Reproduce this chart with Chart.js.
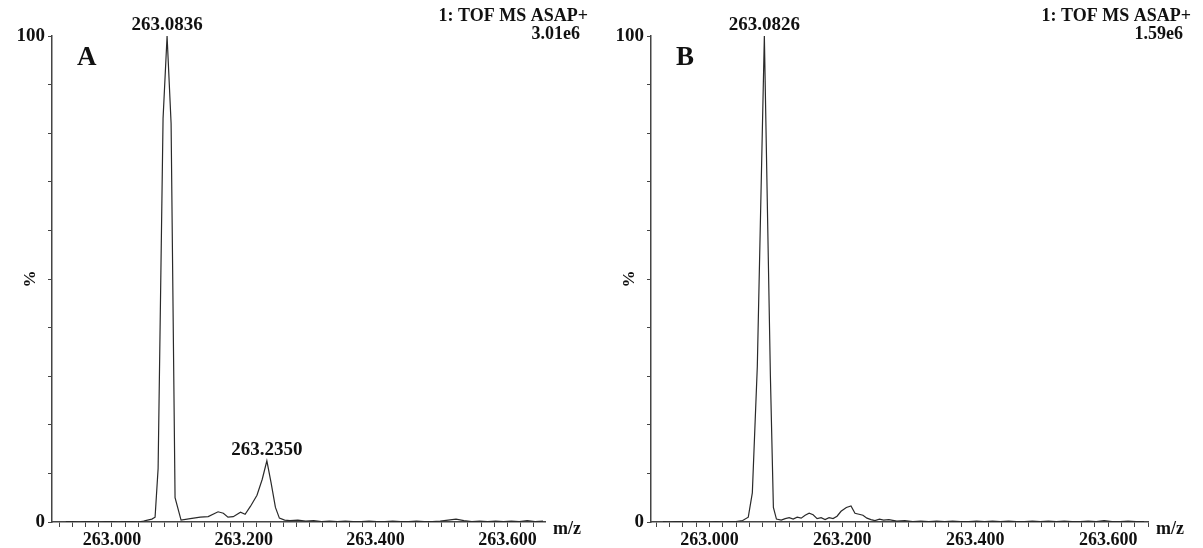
<!DOCTYPE html>
<html lang="en">
  <head>
    <meta charset="UTF-8">
    <script src="https://cdn.jsdelivr.net/npm/chart.js@4.4.0/dist/chart.umd.min.js"></script>
    <style>
      body { margin: 0; background: #FFFFFF; }
      .wrap { position: relative; width: 1203px; height: 548px; }
      .panel { position: absolute; top: 0; height: 548px; }
    </style>
  </head>
  <body>
    <div class="wrap">
      <div class="panel" style="left: 0; width: 600px;"><canvas id="chartA"></canvas></div>
      <div class="panel" style="left: 600px; width: 603px;"><canvas id="chartB"></canvas></div>
    </div>

    <script>
      // Spectrum A (m/z, relative intensity %)
      const mzA = [262.930, 262.940, 262.950, 262.960, 262.970, 262.980, 262.990, 263.000, 263.010, 263.020,
        263.030, 263.040, 263.048, 263.054, 263.0605, 263.0654, 263.0700, 263.0775, 263.0836, 263.0897,
        263.0957, 263.1048, 263.1188, 263.134, 263.146, 263.161, 263.169, 263.176, 263.184, 263.195,
        263.202, 263.210, 263.220, 263.228, 263.235, 263.2415, 263.248, 263.254, 263.262, 263.270,
        263.282, 263.294, 263.306, 263.318, 263.330, 263.342, 263.354, 263.366, 263.378, 263.390,
        263.402, 263.414, 263.426, 263.438, 263.450, 263.462, 263.474, 263.486, 263.498, 263.510,
        263.522, 263.534, 263.546, 263.558, 263.570, 263.582, 263.594, 263.606, 263.618, 263.630,
        263.642, 263.654];
      const intA = [0.1, 0.1, 0.0, 0.1, 0.1, 0.0, 0.1, 0.1, 0.0, 0.1,
        0.1, 0.0, 0.2, 0.4, 0.6, 1.0, 11, 83, 100, 82,
        5, 0.4, 0.7, 1.0, 1.1, 2.1, 1.8, 1.0, 1.1, 2.0,
        1.6, 3.2, 5.5, 8.8, 12.6, 8, 3, 0.8, 0.4, 0.3,
        0.4, 0.2, 0.3, 0.1, 0.2, 0.1, 0.2, 0.1, 0.1, 0.2,
        0.1, 0.1, 0.2, 0.1, 0.1, 0.2, 0.1, 0.1, 0.2, 0.4,
        0.6, 0.3, 0.1, 0.2, 0.1, 0.2, 0.1, 0.2, 0.1, 0.3,
        0.1, 0.2];

      // Spectrum B
      const mzB = [262.930, 262.940, 262.950, 262.960, 262.970, 262.980, 262.990, 263.000, 263.010, 263.020,
        263.030, 263.040, 263.050, 263.0584, 263.0645, 263.0720, 263.0826, 263.0917, 263.0962, 263.1008,
        263.108, 263.114, 263.120, 263.126, 263.132, 263.138, 263.144, 263.150, 263.156, 263.162,
        263.168, 263.174, 263.180, 263.186, 263.192, 263.198, 263.206, 263.213, 263.219, 263.225,
        263.231, 263.237, 263.243, 263.249, 263.256, 263.262, 263.270, 263.282, 263.294, 263.306,
        263.318, 263.330, 263.342, 263.354, 263.366, 263.378, 263.390, 263.402, 263.414, 263.426,
        263.438, 263.450, 263.462, 263.474, 263.486, 263.498, 263.510, 263.522, 263.534, 263.546,
        263.558, 263.570, 263.582, 263.594, 263.606, 263.618, 263.630, 263.642, 263.654];
      const intB = [0.1, 0.0, 0.1, 0.1, 0.0, 0.1, 0.1, 0.0, 0.1, 0.0,
        0.1, 0.1, 0.3, 1.0, 6, 32, 100, 30, 3, 0.6,
        0.4, 0.7, 0.9, 0.6, 1.0, 0.8, 1.4, 1.8, 1.5, 0.7,
        0.9, 0.5, 0.9, 0.7, 1.2, 2.2, 3.0, 3.3, 1.8, 1.6,
        1.4, 0.8, 0.5, 0.3, 0.6, 0.4, 0.5, 0.2, 0.3, 0.1,
        0.2, 0.1, 0.2, 0.1, 0.2, 0.1, 0.1, 0.2, 0.1, 0.2,
        0.1, 0.2, 0.1, 0.1, 0.2, 0.1, 0.2, 0.1, 0.2, 0.1,
        0.1, 0.2, 0.1, 0.3, 0.1, 0.1, 0.2, 0.1, 0.1];

      // labelled peaks
      const peakMzA = [263.0836, 263.2350];
      const peakTopA = [100, 12.6];
      const peakMzB = [263.0826];
      const peakTopB = [100];

      // axis ticks
      const xMajorTicks = [263.000, 263.200, 263.400, 263.600];
      const xTickStep = 0.02;
      const yTicks = [0, 10, 20, 30, 40, 50, 60, 70, 80, 90, 100];
      const yLabelled = [0, 100];

      const scanTitle = '1: TOF MS ASAP+';
      const scaleA = '3.01e6';
      const scaleB = '1.59e6';

      const serif = '"Liberation Serif", "Times New Roman", serif';

      const annotate = {
        id: 'annotate',
        afterDraw(chart, args, opts) {
          const { ctx, chartArea, scales } = chart;
          const w = chart.width;
          ctx.save();
          ctx.fillStyle = '#111111';

          // peak labels
          ctx.font = 'bold 19px ' + serif;
          ctx.textAlign = 'center';
          ctx.textBaseline = 'alphabetic';
          opts.peakMz.forEach((mz, i) => {
            ctx.fillText(mz.toFixed(4), scales.x.getPixelForValue(mz), scales.y.getPixelForValue(opts.peakTop[i]) - 6);
          });

          // instrument header
          ctx.font = 'bold 18px ' + serif;
          ctx.textAlign = 'right';
          ctx.fillText(scanTitle, w - 12, 21);
          ctx.fillText(opts.scale, w - 20, 39);

          // panel letter
          ctx.font = 'bold 27px ' + serif;
          ctx.textAlign = 'left';
          ctx.fillText(opts.letter, chartArea.left + 25, 65);

          // m/z
          ctx.font = 'bold 18px ' + serif;
          ctx.fillText('m/z', chartArea.right + 8, chartArea.bottom + 12);

          // %
          ctx.translate(chartArea.left - 22, (chartArea.top + chartArea.bottom) / 2);
          ctx.rotate(-Math.PI / 2);
          ctx.textAlign = 'center';
          ctx.font = 'bold 17px ' + serif;
          ctx.fillText('%', 0, 5);
          ctx.restore();
        }
      };

      function makeChart(id, xs, ys, letter, scale, peakMz, peakTop, yWidth, xMin, xMax) {
        const minorTicks = [];
        for (let v = 262.92; v <= xMax + 1e-9; v += xTickStep) minorTicks.push(+v.toFixed(3));

        return new Chart(document.getElementById(id), {
          type: 'line',
          data: {
            datasets: [{
              data: xs.map((x, i) => ({ x: x, y: ys[i] })),
              borderColor: '#2a2a2a',
              borderWidth: 1.2,
              pointRadius: 0,
              tension: 0,
              fill: false
            }]
          },
          options: {
            responsive: true,
            maintainAspectRatio: false,
            animation: false,
            layout: { padding: { top: 36, right: 55, left: 0, bottom: 0 } },
            plugins: {
              legend: { display: false },
              tooltip: { enabled: false },
              annotate: { letter: letter, scale: scale, peakMz: peakMz, peakTop: peakTop }
            },
            scales: {
              x: {
                type: 'linear',
                min: xMin,
                max: xMax,
                afterBuildTicks: s => { s.ticks = minorTicks.map(v => ({ value: v })); },
                afterFit: s => { s.height = 26; },
                ticks: {
                  autoSkip: false,
                  maxRotation: 0,
                  padding: 3,
                  color: '#111111',
                  font: { family: serif, size: 18, weight: 'bold' },
                  callback: v => xMajorTicks.some(m => Math.abs(m - v) < 1e-6) ? v.toFixed(3) : ''
                },
                grid: { drawOnChartArea: false, drawTicks: true, tickLength: 5, color: '#444444' },
                border: { color: '#444444', width: 1.5 }
              },
              y: {
                min: 0,
                max: 100,
                afterBuildTicks: s => { s.ticks = yTicks.map(v => ({ value: v })); },
                afterFit: s => { s.width = yWidth; },
                ticks: {
                  padding: 3,
                  color: '#111111',
                  font: { family: serif, size: 19, weight: 'bold' },
                  callback: v => yLabelled.includes(v) ? String(v) : ''
                },
                grid: { drawOnChartArea: false, drawTicks: true, tickLength: 4, color: '#444444' },
                border: { color: '#444444', width: 1.5 }
              }
            }
          },
          plugins: [annotate]
        });
      }

      makeChart('chartA', mzA, intA, 'A', scaleA, peakMzA, peakTopA, 52, 262.909, 263.657);
      makeChart('chartB', mzB, intB, 'B', scaleB, peakMzB, peakTopB, 51, 262.912, 263.660);
    </script>
  </body>
</html>
